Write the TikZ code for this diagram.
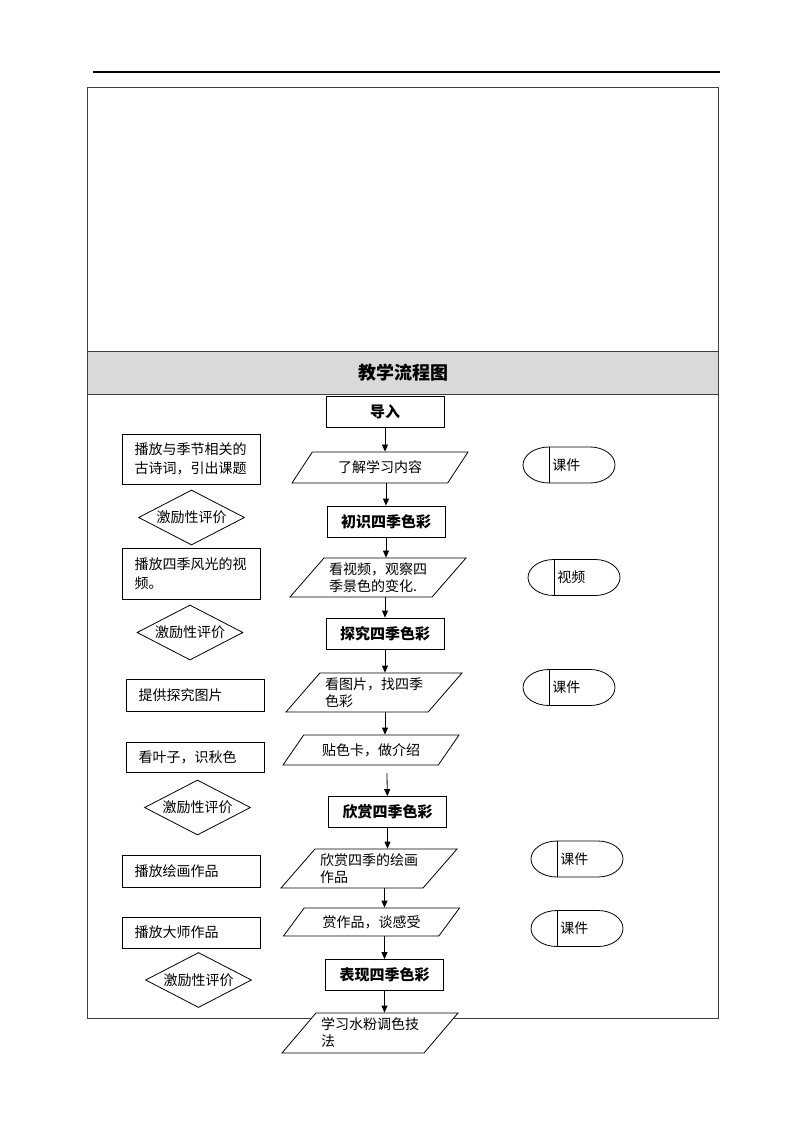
\documentclass[tikz,border=0pt]{standalone}
\usepackage{fontspec}
\setmainfont{Noto Sans CJK SC}
\usetikzlibrary{shapes.geometric,arrows.meta}

\newcommand{\resnode}[3]{%
  \node[restext] (#1) at (#2) {#3};
  \draw ([yshift=18pt]#1.west) -- ++(41,0)
    arc[start angle=-90,end angle=90,x radius=25,y radius=18]
    -- ++(-41,0)
    arc[start angle=90,end angle=270,x radius=26,y radius=18] -- cycle;
  \draw ([yshift=18pt]#1.west) -- ([yshift=-18pt]#1.west);
}

\begin{document}
\begin{tikzpicture}[x=1pt,y=-1pt,line width=0.8pt,
  >={Triangle[length=7pt,width=6pt]},
  flowbox/.style={draw,fill=white,minimum width=118,minimum height=31,
    font=\fontsize{15}{18}\selectfont\bfseries},
  para/.style={draw,fill=white,trapezium,trapezium left angle=45,
    trapezium right angle=135,trapezium stretches body=true,
    minimum width=176,minimum height=31,inner sep=2pt,align=left,
    font=\fontsize{14}{17}\selectfont},
  flatpara/.style={para,trapezium left angle=40,trapezium right angle=140},
  leftbox/.style={draw,fill=white,minimum width=138,minimum height=31,
    text width=113,align=left,font=\fontsize{14}{19}\selectfont},
  evalbox/.style={draw,fill=white,diamond,aspect=2,inner sep=1pt,
    minimum width=106,minimum height=55,font=\fontsize{14}{17}\selectfont},
  restext/.style={anchor=west,inner xsep=3pt,inner ysep=0pt,
    font=\fontsize{14}{17}\selectfont}]
\useasboundingbox (0,0) rectangle (794,1123);

\draw[line width=1.2pt] (93,72) -- (720,72);
\draw[black!75] (87,87) rectangle (718,1018);
\draw[black!75,fill=gray!30] (87,351) rectangle (718,394);
\node[font=\fontsize{18}{22}\selectfont\bfseries] (title) at (403,373) {教学流程图};

\node[flowbox] (daoru) at (385,411.5) {导入};
\node[flatpara] (liaojie) at (380,467.5) {了解学习内容};
\node[flowbox] (chushi) at (386,521.5) {初识四季色彩};
\node[para,minimum height=39] (kansp) at (378,577.5) {看视频，观察四\\季景色的变化.};
\node[flowbox] (tanjiu) at (385,633.5) {探究四季色彩};
\node[para,minimum height=39] (kantp) at (374,692.5) {看图片，找四季\\色彩};
\node[flatpara,minimum height=30] (tiesk) at (371,750) {贴色卡，做介绍};
\coordinate (gap) at (387,773);
\node[flowbox] (xinshang) at (387.5,812) {欣赏四季色彩};
\node[para,minimum height=39] (xshz) at (369,868.5) {欣赏四季的绘画\\作品};
\node[flatpara,minimum height=28] (shangzp) at (371.5,922) {赏作品，谈感受};
\node[flowbox] (biaoxian) at (384.5,975) {表现四季色彩};
\node[para,minimum height=40] (xuexi) at (370,1033) {学习水粉调色技\\法};

\draw[->] (daoru) -- (daoru |- liaojie.north);
\draw[->] (chushi |- liaojie.south) -- (chushi);
\draw[->] (chushi) -- (chushi |- kansp.north);
\draw[->] (tanjiu |- kansp.south) -- (tanjiu);
\draw[->] (tanjiu) -- (tanjiu |- kantp.north);
\draw[->] (tanjiu |- kantp.south) -- (tanjiu |- tiesk.north);
\draw[->] (gap) -- (xinshang);
\draw[->] (xinshang) -- (xinshang |- xshz.north);
\draw[->] (biaoxian |- xshz.south) -- (biaoxian |- shangzp.north);
\draw[->] (biaoxian |- shangzp.south) -- (biaoxian);
\draw[->] (biaoxian) -- (biaoxian |- xuexi.north);

\node[leftbox,minimum height=50] (bofang1) at (191,459) {播放与季节相关的\\古诗词，引出课题};
\node[evalbox] (jili1) at (191.5,517.5) {激励性评价};
\node[leftbox,minimum height=51] (bofang2) at (191,573.5) {播放四季风光的视\\频。};
\node[evalbox] (jili2) at (190,632.5) {激励性评价};
\node[leftbox,minimum height=32] (tigong) at (195,695) {提供探究图片};
\node[leftbox,minimum height=30] (kanyz) at (195,757) {看叶子，识秋色};
\node[evalbox] (jili3) at (197.5,807.5) {激励性评价};
\node[leftbox,minimum height=32] (bofanghh) at (191,871) {播放绘画作品};
\node[leftbox] (bofangds) at (191,932.5) {播放大师作品};
\node[evalbox] (jili4) at (198.5,980) {激励性评价};

\resnode{kj1}{549,465}{课件}
\resnode{sp}{554,577.5}{视频}
\resnode{kj2}{549,687.5}{课件}
\resnode{kj3}{557,859}{课件}
\resnode{kj4}{557,928.5}{课件}
\end{tikzpicture}
\end{document}
